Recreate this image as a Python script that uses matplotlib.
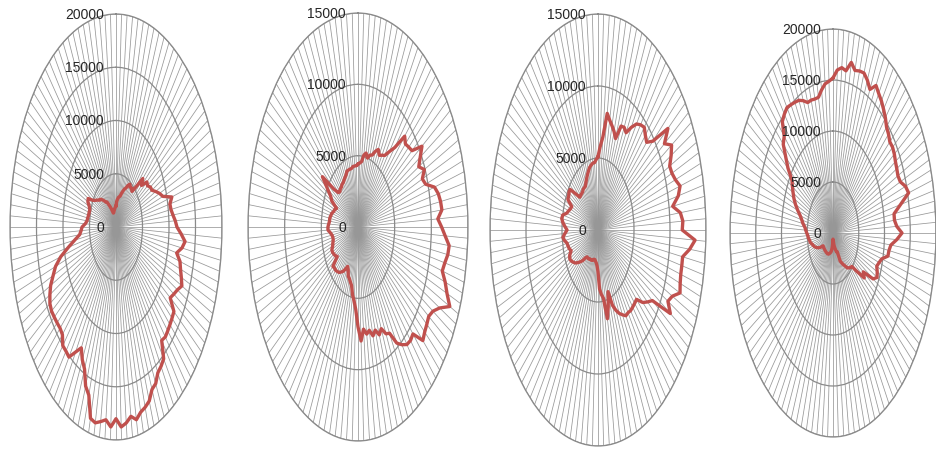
import numpy as np
import matplotlib.pyplot as plt

# 120 directions, 3 degrees apart, clockwise from the top
angles_deg = np.arange(0, 360, 3)

site_a = [
    2000, 2400, 2600, 2800, 2900, 3000, 3300, 3600, 3900, 4100,
    4500, 4800, 4600, 4700, 4500, 5300, 6800, 6200, 7200, 7100,
    7500, 7600, 8200, 8800, 9300, 10900, 10400, 10500, 10800, 11200,
    11500, 12300, 13100, 12600, 11700, 12500, 12800, 13200, 13600, 13000,
    12600, 12200, 13500, 13600, 13700, 13800, 13900, 13700, 15300, 15600,
    15800, 16500, 16700, 17500, 17800, 18000, 18500, 18000, 18500, 18800,
    18000, 18800, 18200, 18500, 18800, 18600, 16600, 16000, 14600, 14000,
    13100, 14000, 15100, 15000, 15000, 14300, 14200, 14300, 14400, 14500,
    14400, 14000, 13500, 12700, 12000, 10800, 9200, 7900, 6900, 6600,
    6400, 5800, 5500, 5400, 5300, 5250, 5200, 5400, 5800, 5900,
    5000, 4600, 4300, 4000, 3900, 3600, 3300, 3000, 2900, 2500,
    2200, 1900, 1600, 1400, 1400, 1500, 1600, 1700, 1800, 1900,
]

site_b = [
    4400, 4500, 4600, 5100, 5300, 5000, 5300, 5400, 5800, 6100,
    5800, 6000, 6200, 6800, 7500, 9000, 8700, 8900, 9100, 10400,
    9800, 9300, 9900, 9400, 9700, 10800, 11200, 11400, 11500, 10900,
    11400, 11900, 12500, 12400, 12100, 11900, 12500, 13000, 13700, 12500,
    11800, 11500, 11600, 11700, 11900, 10600, 10700, 10600, 10200, 9700,
    8600, 8400, 7800, 8100, 7600, 7900, 7400, 7600, 7200, 8000,
    7000, 5800, 5200, 4800, 4200, 4000, 3800, 3700, 3300, 3100,
    3400, 3700, 3900, 4100, 4200, 4300, 4300, 4400, 3500, 3700,
    3800, 3900, 3900, 3700, 3600, 3500, 3500, 3600, 3800, 4100,
    4100, 4000, 3900, 3900, 3800, 3700, 3500, 3400, 3200, 4000,
    4300, 5000, 6000, 4200, 3600, 3500, 3600, 3600, 3700, 3700,
    3800, 3900, 4000, 4200, 4200, 4200, 4200, 4300, 4300, 4300,
]

site_c = [
    5100, 5800, 6500, 8200, 7800, 7500, 7200, 6800, 7900, 8000,
    7800, 8500, 9100, 9400, 9600, 9300, 9100, 9800, 12000, 11000,
    11800, 11400, 10900, 11000, 11300, 11800, 11400, 10500, 11500, 11800,
    11700, 13500, 12800, 11900, 11900, 11900, 12000, 12200, 11300, 10900,
    11600, 9000, 8500, 8000, 7200, 7200, 7200, 7200, 7100, 7100,
    6800, 6500, 6100, 5600, 4500, 5500, 6300, 4800, 4500, 4100,
    2900, 2500, 2300, 2200, 2100, 2100, 2200, 2200, 2300, 2300,
    2300, 2400, 2400, 2400, 2600, 3000, 3300, 3600, 3900, 4100,
    4300, 4400, 4300, 4000, 4200, 4300, 4400, 4700, 4900, 4600,
    4300, 4600, 4900, 5100, 5000, 4500, 4300, 4100, 4000, 4700,
    4700, 4800, 4800, 4000, 3400, 3400, 3400, 3400, 3500, 3500,
    3500, 3700, 3900, 4100, 4300, 4500, 4600, 4700, 4700, 4900,
]

site_d = [
    15200, 16000, 16300, 16100, 17100, 16500, 16700, 16800, 16400, 15800,
    16700, 16300, 16000, 15600, 15200, 14700, 14500, 14200, 14300, 14200,
    14000, 13900, 13800, 14000, 14800, 15200, 13400, 12000, 12000, 12400,
    13400, 12400, 11300, 11000, 10900, 9800, 9400, 9100, 9400, 9600,
    9000, 7000, 7500, 6000, 4900, 4800, 4600, 4400, 4000, 3700,
    3400, 3100, 2000, 2000, 1800, 1600, 1400, 1200, 900, 700,
    600, 1000, 1400, 1700, 1900, 2000, 2100, 2200, 2200, 2300,
    2300, 2300, 2300, 2300, 2300, 2300, 2300, 2300, 2300, 2300,
    2800, 3200, 3500, 3800, 4000, 4200, 4500, 4600, 4800, 4900,
    5100, 5300, 5500, 5900, 6200, 6600, 7200, 7800, 8300, 8700,
    9100, 9500, 10800, 11800, 13000, 13400, 14700, 15000, 15200, 15000,
    14800, 14600, 14200, 13700, 13700, 13600, 13600, 14200, 14700, 14900,
]

series = [site_a, site_b, site_c, site_d]
axis_max = [20000, 15000, 15000, 20000]
ring_step = 5000

# pixel box of each radar: centre x, centre y, half width, half height
boxes = [
    (116, 228, 106, 213),
    (358, 228, 110, 214),
    (598, 231, 108, 216),
    (833, 234, 103, 204),
]

W, H = 936, 452
fig = plt.figure(figsize=(W / 100, H / 100), dpi=100)

theta = np.deg2rad(angles_deg)

for values, vmax, (cx, cy, rx, ry) in zip(series, axis_max, boxes):
    ax = fig.add_axes([(cx - rx) / W, (H - cy - ry) / H, 2 * rx / W, 2 * ry / H],
                      projection="polar")
    ax.set_aspect("auto")  # let the radar stretch into an ellipse
    ax.set_theta_zero_location("N")
    ax.set_theta_direction(-1)
    ax.set_ylim(0, vmax)

    rings = np.arange(ring_step, vmax + 1, ring_step)
    ax.set_xticks(theta)
    ax.set_xticklabels([])
    ax.set_yticks(rings)
    ax.set_yticklabels([])
    ax.xaxis.grid(True, color="#979797", linewidth=0.55)
    ax.yaxis.grid(True, color="#8a8a8a", linewidth=0.9)
    ax.tick_params(length=0)
    ax.spines["polar"].set_color("#8a8a8a")
    ax.spines["polar"].set_linewidth(0.9)
    ax.set_facecolor("none")

    t = np.append(theta, theta[0])
    r = np.append(values, values[0])
    ax.plot(t, r, color="#c0504d", linewidth=2.4, zorder=5, clip_on=False)

    for v in np.arange(0, vmax + 1, ring_step):
        ax.annotate(f"{v}", xy=(0, v), xytext=(-12, 0), textcoords="offset pixels",
                    ha="right", va="center", fontsize=10, color="#262626",
                    family="Liberation Sans", zorder=6, annotation_clip=False)

fig.savefig("out.png", dpi=100)
